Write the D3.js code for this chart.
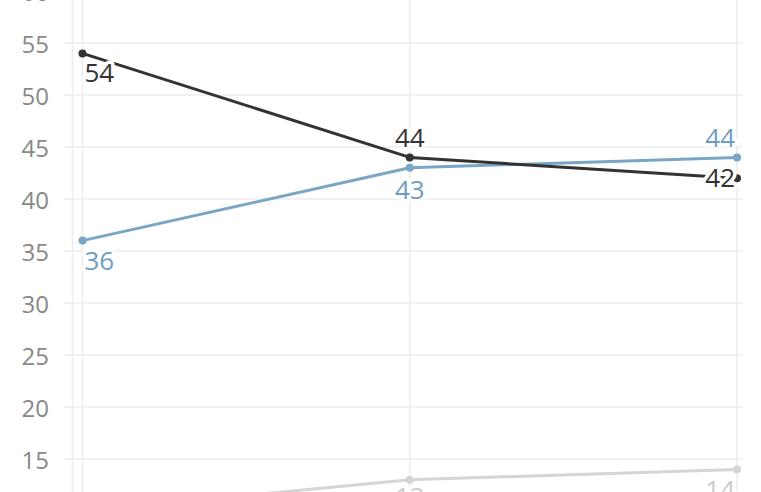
<!DOCTYPE html>
<html>
<head>
<meta charset="utf-8">
<script src="https://cdn.jsdelivr.net/npm/d3@7"></script>
<style>
  html, body { margin: 0; padding: 0; background: #fff; }
  svg { display: block; }
  text { font-family: "Open Sans", "Noto Sans", sans-serif; }
</style>
</head>
<body>
<svg id="chart" width="761" height="492"></svg>
<script>
// ---- data ----
const categories = ["P1", "P2", "P3"];
const seriesNames = ["dark", "blue", "gray"];
const darkValues = [54, 44, 42];
const blueValues = [36, 43, 44];
const grayValues = [10, 13, 14];
const yTicks = [15, 20, 25, 30, 35, 40, 45, 50, 55, 60];

const series = [
  { name: seriesNames[2], values: grayValues, line: "#d5d5d5", label: "#cccccc" },
  { name: seriesNames[1], values: blueValues, line: "#79a6c6", label: "#6f9dbf" },
  { name: seriesNames[0], values: darkValues, line: "#333333", label: "#333333" }
];

const W = 761, H = 492;
const svg = d3.select("#chart");

const x = d3.scalePoint().domain(categories).range([82.5, 737]);
const y = d3.scaleLinear().domain([0, 60]).range([615, -9]);

// horizontal gridlines
svg.append("g").selectAll("line").data(yTicks).join("line")
  .attr("x1", 64).attr("x2", 743)
  .attr("y1", d => y(d)).attr("y2", d => y(d))
  .attr("stroke", "#ededed").attr("stroke-width", 1.6);

// left axis line
svg.append("line")
  .attr("x1", 72.5).attr("x2", 72.5).attr("y1", 0).attr("y2", H)
  .attr("stroke", "#ededed").attr("stroke-width", 1.6);

// vertical gridlines
svg.append("g").selectAll("line").data(categories).join("line")
  .attr("x1", d => x(d)).attr("x2", d => x(d))
  .attr("y1", 0).attr("y2", H)
  .attr("stroke", "#ededed").attr("stroke-width", 1.6);

// y tick labels
const yAxis = d3.axisLeft(y).tickValues(yTicks).tickSize(0).tickPadding(0);
const gy = svg.append("g").attr("transform", "translate(49,2)").call(yAxis);
gy.select(".domain").remove();
gy.selectAll("text")
  .attr("fill", "#888888")
  .style("font-size", "24px")
  .style("font-family", "'Open Sans', 'Noto Sans', sans-serif");

// lines
const line = d3.line().x((d, i) => x(categories[i])).y(d => y(d));
series.forEach(s => {
  svg.append("path").datum(s.values)
    .attr("d", line)
    .attr("fill", "none")
    .attr("stroke", s.line)
    .attr("stroke-width", 3)
    .attr("stroke-linejoin", "round");
  svg.append("g").selectAll("circle").data(s.values).join("circle")
    .attr("cx", (d, i) => x(categories[i]))
    .attr("cy", d => y(d))
    .attr("r", 4)
    .attr("fill", s.line);
});

// value labels
const labelG = svg.append("g");
categories.forEach((c, i) => {
  const ranked = series.slice().sort((a, b) => b.values[i] - a.values[i]);
  ranked.forEach((s, rank) => {
    const v = s.values[i];
    const px = x(c), py = y(v);
    let tx, ty, anchor;
    if (i === 0) {
      anchor = "start"; tx = px + 2; ty = py + 29;
    } else if (i === categories.length - 1) {
      anchor = "end"; tx = px - 2;
      ty = rank === 0 ? py - 10 : (rank === 1 ? py + 9 : py + 30);
    } else {
      anchor = "middle"; tx = px;
      ty = rank === 0 ? py - 10 : (rank === 1 ? py + 31 : py + 26);
    }
    labelG.append("text")
      .attr("x", tx).attr("y", ty)
      .attr("text-anchor", anchor)
      .attr("fill", s.label)
      .attr("stroke", "#ffffff")
      .attr("stroke-width", 7)
      .attr("stroke-linejoin", "round")
      .attr("paint-order", "stroke")
      .style("font-size", "26px")
      .text(v);
  });
});
</script>
</body>
</html>
